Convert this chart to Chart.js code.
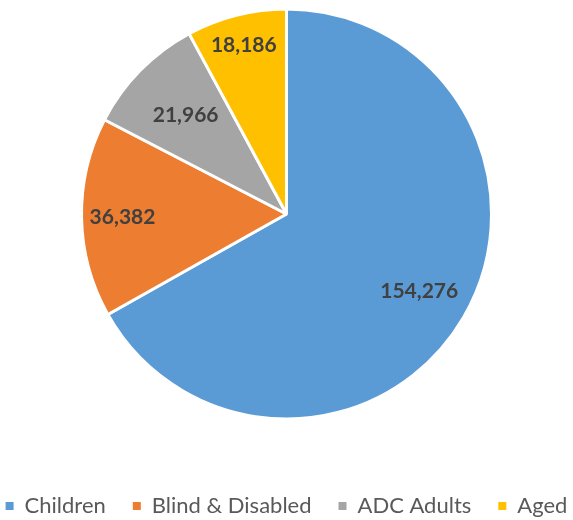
<!DOCTYPE html>
<html>
<head>
<meta charset="utf-8">
<script src="https://cdn.jsdelivr.net/npm/chart.js@4/dist/chart.umd.min.js"></script>
<style>
html,body{margin:0;padding:0;background:#fff;}
#wrap{width:573px;height:520px;position:relative;}
</style>
</head>
<body>
<div id="wrap"><canvas id="c" width="573" height="520"></canvas></div>
<script>
const categories = ["Children", "Blind & Disabled", "ADC Adults", "Aged"];
const values = [154276, 36382, 21966, 18186];
const colors = ["#5B9BD5", "#ED7D31", "#A5A5A5", "#FFC000"];

const labelPlugin = {
  id: 'sliceLabels',
  afterDatasetsDraw(chart, args, opts) {
    const ctx = chart.ctx;
    const meta = chart.getDatasetMeta(0);
    const fr = opts.fractions || [];
    ctx.save();
    ctx.font = 'bold 21px Lato, "Liberation Sans", sans-serif';
    ctx.fillStyle = '#404040';
    ctx.textAlign = 'center';
    ctx.textBaseline = 'middle';
    meta.data.forEach((arc, i) => {
      const p = arc.getProps(['x','y','startAngle','endAngle','outerRadius'], true);
      const mid = (p.startAngle + p.endAngle) / 2;
      const r = p.outerRadius * (fr[i] || 0.78);
      ctx.fillText(values[i].toLocaleString('en-US'), p.x + Math.cos(mid) * r, p.y + Math.sin(mid) * r);
    });
    ctx.restore();
  }
};

new Chart(document.getElementById('c'), {
  type: 'pie',
  data: {
    labels: categories,
    datasets: [{
      data: values,
      backgroundColor: colors,
      borderColor: '#ffffff',
      borderWidth: 3,
      radius: 205
    }]
  },
  options: {
    responsive: false,
    animation: false,
    layout: { padding: { top: 0, bottom: -7, left: -40, right: -40 } },
    plugins: {
      tooltip: { enabled: false },
      sliceLabels: { fractions: [0.75, 0.80, 0.69, 0.85] },
      legend: {
        position: 'bottom',
        title: {
          display: true,
          text: '',
          font: { size: 10, lineHeight: 1 },
          padding: 15
        },
        labels: {
          boxWidth: 8,
          boxHeight: 8,
          padding: 27,
          color: '#595959',
          font: { family: 'Lato, "Liberation Sans", sans-serif', size: 22 },
          generateLabels(chart) {
            const items = Chart.overrides.pie.plugins.legend.labels.generateLabels(chart);
            items.forEach(it => { it.lineWidth = 0; it.strokeStyle = 'rgba(0,0,0,0)'; });
            return items;
          }
        }
      }
    }
  },
  plugins: [labelPlugin]
});
</script>
</body>
</html>
